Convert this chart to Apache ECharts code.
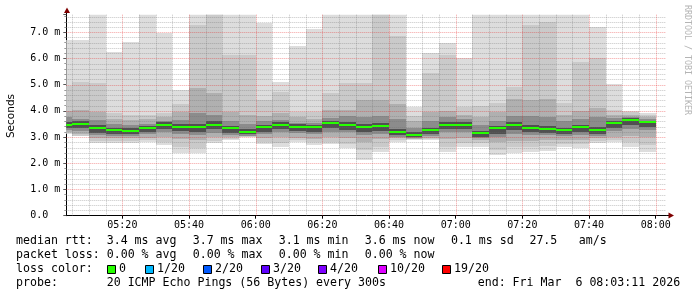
<!DOCTYPE html>
<html><head><meta charset="utf-8">
<script src="https://cdn.jsdelivr.net/npm/echarts@6/dist/echarts.min.js"></script>
<style>html,body{margin:0;padding:0;background:#fff}#c{width:697px;height:297px}</style>
</head><body><div id="c"></div>
<script>
// ---- data (ms) ----
const times = ['05:05','05:10','05:15','05:20','05:25','05:30','05:35','05:40','05:45','05:50','05:55','06:00',
               '06:05','06:10','06:15','06:20','06:25','06:30','06:35','06:40','06:45','06:50','06:55','07:00',
               '07:05','07:10','07:15','07:20','07:25','07:30','07:35','07:40','07:45','07:50','07:55','08:00'];
const median = [3.48,3.49,3.34,3.26,3.24,3.33,3.47,3.40,3.37,3.48,3.33,3.21,3.37,3.47,3.39,3.37,3.53,3.47,3.39,3.41,3.20,3.09,3.26,3.47,3.47,3.14,3.33,3.47,3.34,3.31,3.26,3.37,3.26,3.53,3.66,3.56];
const pMax = [6.70,6.70,7.80,6.26,6.62,7.80,6.96,4.80,7.80,7.80,7.80,7.80,7.37,5.11,6.48,7.11,7.80,7.80,7.80,7.80,7.80,4.16,6.22,6.60,6.00,7.80,7.80,7.80,7.80,7.80,7.80,7.80,7.21,5.03,4.00,3.91];
const pHi2 = [4.95,5.11,5.05,3.93,3.84,3.84,3.90,4.26,7.28,7.70,6.13,6.13,4.40,4.72,3.97,3.95,4.69,5.06,5.05,7.75,6.84,3.80,5.43,6.13,4.16,4.20,4.30,4.91,7.28,7.40,4.30,5.88,6.00,4.05,3.95,3.85];
const pHi3 = [4.00,4.03,3.95,3.70,3.65,3.70,3.75,3.95,4.86,4.67,3.95,3.85,3.80,3.90,3.75,3.70,4.05,4.05,4.40,4.40,4.25,3.60,3.95,4.00,3.85,3.75,3.95,4.45,4.42,4.45,3.85,4.00,4.10,3.85,3.85,3.75];
const pHi4 = [3.75,3.70,3.65,3.50,3.45,3.50,3.62,3.65,3.90,3.85,3.60,3.50,3.60,3.65,3.55,3.55,3.72,3.80,3.75,3.80,3.70,3.35,3.60,3.75,3.70,3.45,3.60,3.80,3.80,3.75,3.60,3.70,3.75,3.72,3.78,3.68];
const pHi5 = [3.58,3.60,3.45,3.36,3.34,3.44,3.56,3.50,3.50,3.60,3.44,3.30,3.48,3.57,3.50,3.47,3.62,3.58,3.50,3.53,3.30,3.18,3.36,3.58,3.58,3.24,3.44,3.58,3.45,3.42,3.36,3.48,3.37,3.62,3.72,3.63];
const pLo5 = [3.35,3.33,3.17,3.12,3.10,3.18,3.30,3.22,3.18,3.30,3.17,3.10,3.20,3.30,3.22,3.20,3.34,3.28,3.18,3.22,3.08,3.00,3.12,3.30,3.30,3.02,3.12,3.28,3.18,3.16,3.12,3.20,3.12,3.35,3.45,3.38];
const pLo4 = [3.28,3.25,3.08,3.05,3.04,3.10,3.20,3.10,3.08,3.15,3.08,3.06,3.10,3.20,3.14,3.13,3.20,3.18,3.08,3.13,3.01,2.97,3.04,3.18,3.18,2.98,3.02,3.12,3.08,3.08,3.04,3.08,3.04,3.24,3.32,3.26];
const pLo3 = [3.20,3.12,2.96,2.95,2.95,2.97,3.02,2.92,2.88,3.00,2.99,3.03,2.95,3.02,2.96,2.92,3.02,2.96,2.82,2.92,2.95,2.94,2.97,2.92,2.95,2.90,2.82,2.86,2.86,2.90,2.90,2.90,2.95,3.02,3.06,3.00];
const pLo2 = [3.15,3.06,2.86,2.86,2.86,2.89,2.82,2.62,2.60,2.86,2.92,3.01,2.82,2.76,2.90,2.80,2.82,2.72,2.50,2.62,2.88,2.91,2.93,2.62,2.76,2.76,2.52,2.62,2.62,2.66,2.72,2.72,2.86,2.90,2.80,2.70];
const pMin = [3.10,3.04,2.79,2.79,2.79,2.83,2.70,2.38,2.40,2.76,2.89,2.99,2.74,2.63,2.83,2.70,2.72,2.57,2.13,2.42,2.83,2.89,2.89,2.42,2.61,2.63,2.32,2.40,2.42,2.48,2.61,2.57,2.76,2.83,2.63,2.42];
const xTickLabels = ['05:20','05:40','06:00','06:20','06:40','07:00','07:20','07:40','08:00'];
const yTicks = [0,1,2,3,4,5,6,7];
const lossLabels = ['0','1/20','2/20','3/20','4/20','10/20','19/20'];
const lossColors = ['#26ff00','#00b8ff','#0059ff','#5e00ff','#7e00ff','#dd00ff','#ff0000'];
const startTime = '05:03:11', endTime = '08:03:11';
const stepMin = 5;

// ---- helpers ----
function toMin(s){const p=s.split(':').map(Number);return (p[0]-5)*60+p[1]+(p[2]||0)/60;}
const xMin = toMin(startTime), xMax = toMin(endTime);
const yMax = 7.67;
const smokeColors = ['#dddddd','#cacaca','#b0b0b0','#8c8c8c','#505050'];

const smokeData = times.map((t,i)=>[toMin(t),pMax[i],pHi2[i],pHi3[i],pHi4[i],pHi5[i],median[i],pLo5[i],pLo4[i],pLo3[i],pLo2[i],pMin[i]]);
const medData = times.map((t,i)=>[toMin(t),median[i]]);

function clipRect(x1,y1,x2,y2,cs){
  return echarts.graphic.clipRectByRect({x:x1,y:y1,width:x2-x1,height:y2-y1},{x:cs.x,y:cs.y,width:cs.width,height:cs.height});
}
function smokeRender(params, api){
  const t = api.value(0), cs = params.coordSys;
  const children = [];
  for (let k=0;k<5;k++){
    const hi = api.value(1+k), lo = api.value(11-k);
    const a = api.coord([t-stepMin, hi]), b = api.coord([t, lo]);
    const r = clipRect(Math.round(a[0]),Math.round(a[1]),Math.round(b[0]),Math.round(b[1]),cs);
    if (r) children.push({type:'rect',shape:r,style:{fill:smokeColors[k]}});
  }
  return {type:'group',children};
}
function medRender(params, api){
  const t = api.value(0), m = api.value(1), cs = params.coordSys;
  const a = api.coord([t-stepMin, m]), b = api.coord([t, m]);
  const y = Math.round(a[1]);
  const r = clipRect(Math.round(a[0]), y-1, Math.round(b[0]), y+1, cs);
  return r ? {type:'rect',shape:r,style:{fill:'#26ff00'}} : null;
}
function gridRender(vertical, color){
  return function(params, api){
    const cs = params.coordSys;
    const p = api.coord([api.value(0), api.value(1)]);
    let shape;
    if (vertical){ const x=Math.round(p[0])+0.5; shape={x1:x,y1:cs.y,x2:x,y2:cs.y+cs.height}; }
    else { const y=Math.round(p[1])+0.5; shape={x1:cs.x,y1:y,x2:cs.x+cs.width,y2:y}; }
    return {type:'line',shape,style:{stroke:color,lineWidth:1,lineDash:[1,1]}};
  };
}
const xMajorVals = xTickLabels.map(toMin);
const vMajor = xMajorVals.map(v=>[v,0]);
const vMinor = times.map(toMin).filter(v=>!xMajorVals.includes(v)).map(v=>[v,0]);
const hMajor = yTicks.filter(v=>v>0).map(v=>[xMin,v]);
const hMinor = [];
for (let k=1;k*0.2<yMax;k++){ if (k%5!==0) hMinor.push([xMin,+(k*0.2).toFixed(1)]); }

const GL=66.3, GT=14.7, GW=600, GH=201;
const mono = 'DejaVu Sans Mono';
const legendFont = '11.6px "DejaVu Sans Mono"';

const graphics = [];
function txt(x,y,s,extra){graphics.push(Object.assign({type:'text',x:x,y:y,style:{text:s,font:legendFont,fill:'#000',verticalAlign:'middle'}},extra||{}));}
txt(16,241,'median rtt:'); txt(106.7,241,'3.4 ms avg'); txt(192.7,241,'3.7 ms max'); txt(278.7,241,'3.1 ms min');
txt(364.7,241,'3.6 ms now'); txt(450.9,241,'0.1 ms sd'); txt(529.4,241,'27.5'); txt(578.8,241,'am/s');
txt(16,255,'packet loss:'); txt(106.7,255,'0.00 % avg'); txt(192.7,255,'0.00 % max'); txt(278.7,255,'0.00 % min'); txt(364.7,255,'0.00 % now');
txt(16,269,'loss color:');
const boxX=[107.5,145.5,203.5,261.5,318.5,378.5,442.5];
lossLabels.forEach((l,i)=>{
  graphics.push({type:'rect',shape:{x:boxX[i],y:265.5,width:8,height:8},style:{fill:lossColors[i],stroke:'#000',lineWidth:1}});
  txt(boxX[i]+11.5,269,l);
});
txt(16,283,'probe:'); txt(106.7,283,'20 ICMP Echo Pings (56 Bytes) every 300s'); txt(477.7,283,'end: Fri Mar  6 08:03:11 2026');
graphics.push({type:'text',x:11,y:116,rotation:Math.PI/2,style:{text:'Seconds',font:'10.5px "DejaVu Sans"',fill:'#000',align:'center',verticalAlign:'middle'}});
graphics.push({type:'text',x:687.5,y:60,rotation:-Math.PI/2,style:{text:'RRDTOOL / TOBI OETIKER',font:'8.3px "DejaVu Sans Mono"',fill:'#b4b4b4',align:'center',verticalAlign:'middle'}});
// axis extensions + arrows
graphics.push({type:'line',shape:{x1:66.5,y1:GT,x2:66.5,y2:10},style:{stroke:'#000',lineWidth:1}});
graphics.push({type:'polygon',shape:{points:[[67,7.5],[64,13],[70,13]]},style:{fill:'#7f0000'}});
graphics.push({type:'line',shape:{x1:GL+GW,y1:215.5,x2:670,y2:215.5},style:{stroke:'#000',lineWidth:1}});
graphics.push({type:'polygon',shape:{points:[[674,215.5],[668.5,212.5],[668.5,218.5]]},style:{fill:'#7f0000'}});

const chart = echarts.init(document.getElementById('c'),null,{renderer:'canvas'});
chart.setOption({
  animation:false,
  backgroundColor:'#ffffff',
  grid:{left:GL,top:GT,width:GW,height:GH,containLabel:false},
  xAxis:{type:'value',min:xMin,max:xMax,
    axisLine:{show:true,lineStyle:{color:'#000',width:1}},
    axisTick:{show:true,length:3,customValues:xMajorVals,lineStyle:{color:'#000'}},
    axisLabel:{customValues:xMajorVals,margin:5,fontFamily:mono,fontSize:10,color:'#000',
      formatter:v=>{const i=xMajorVals.findIndex(m=>Math.abs(m-v)<1e-6);return i>=0?xTickLabels[i]:'';}},
    splitLine:{show:false}},
  yAxis:{type:'value',min:0,max:yMax,interval:1,
    axisLine:{show:true,lineStyle:{color:'#000',width:1}},
    axisTick:{show:true,length:3,lineStyle:{color:'#555'}},
    minorTick:{show:true,splitNumber:5,length:2,lineStyle:{color:'#999'}},
    axisLabel:{margin:6,fontFamily:mono,fontSize:10,color:'#000',
      formatter:v=>{if(Math.abs(v-Math.round(v))>1e-6)return '';return v===0?'0.0  ':v.toFixed(1)+' m';}},
    splitLine:{show:false}},
  series:[
    {type:'custom',name:'smoke',renderItem:smokeRender,data:smokeData,z:1,silent:true},
    {type:'custom',name:'vminor',renderItem:gridRender(true,'rgba(110,110,110,0.4)'),data:vMinor,z:3,silent:true},
    {type:'custom',name:'hminor',renderItem:gridRender(false,'rgba(110,110,110,0.4)'),data:hMinor,z:3,silent:true},
    {type:'custom',name:'vmajor',renderItem:gridRender(true,'rgba(230,20,20,0.4)'),data:vMajor,z:4,silent:true},
    {type:'custom',name:'hmajor',renderItem:gridRender(false,'rgba(230,20,20,0.4)'),data:hMajor,z:4,silent:true},
    {type:'custom',name:'median',renderItem:medRender,data:medData,z:5,silent:true}
  ],
  graphic:graphics
});
</script></body></html>
